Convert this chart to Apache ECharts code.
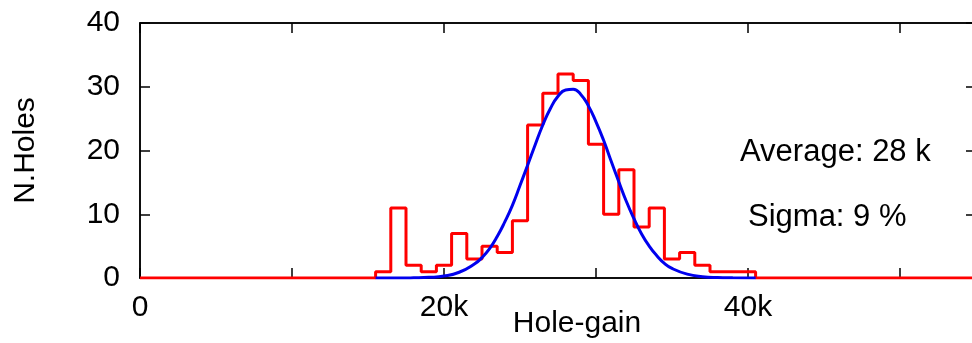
<!DOCTYPE html>
<html>
<head>
<meta charset="utf-8">
<script src="https://cdn.jsdelivr.net/npm/echarts@6/dist/echarts.min.js"></script>
<style>html,body{margin:0;padding:0;background:#fff}#c{width:972px;height:343px}</style>
</head>
<body>
<div id="c"></div>
<script>
// Histogram bins (centres in thousands of gain) and counts
var binCenters = [16,17,18,19,20,21,22,23,24,25,26,27,28,29,30,31,32,33,34,35,36,37,38,39,40];
var binCounts  = [1,11,2,1,2,7,3,5,4,9,24,29,32,31,21,10,17,8,11,3,4,2,1,1,1];
// Gaussian fit curve
var fitX = [15.5,17,18,19,20,21,22,22.5,23,23.5,24,24.5,25,25.5,26,26.5,27,27.5,28,28.5,29,29.5,30,30.5,31,31.5,32,32.5,33,33.5,34,34.5,35,36,37,38,39,40.5];
var fitY = [0,0,0.03,0.1,0.3,0.9,2.2,3.2,4.6,6.5,8.8,11.4,14.5,17.7,20.9,24.0,26.6,28.5,29.5,29.6,28.8,27.0,24.5,21.6,18.3,15.1,12.0,9.3,6.9,5.0,3.5,2.3,1.5,0.6,0.2,0.06,0.02,0];
var xTicks = [0,10,20,30,40,50];
var yTicks = [0,10,20,30,40];
var annotations = ["Average: 28 k", "Sigma: 9 %"];

var X_MAX = 55;
var histData = [];
for (var k = 0; k <= X_MAX; k++) {
  var idx = binCenters.indexOf(k);
  histData.push([k, idx >= 0 ? binCounts[idx] : 0]);
}
var fitData = fitX.map(function (x, i) { return [x, fitY[i]]; });

var font = 'Liberation Sans, Arial, Helvetica, sans-serif';
var chart = echarts.init(document.getElementById('c'), null, {renderer: 'canvas'});
var axisLineStyle = {color: '#000', width: 1.5};
function xLabel(v) { return (v % 20 === 0) ? (v === 0 ? '0' : v + 'k') : ''; }

chart.setOption({
  animation: false,
  backgroundColor: '#fff',
  grid: {left: 140, top: 23, width: 836, height: 255, containLabel: false, outerBoundsMode: 'none',
         show: true, borderColor: '#000', borderWidth: 1.5, backgroundColor: 'transparent'},
  xAxis: [{
    type: 'value', gridIndex: 0, min: 0, max: X_MAX, interval: 10, position: 'bottom',
    axisLine: {show: true, onZero: false, lineStyle: axisLineStyle},
    axisTick: {show: true, inside: true, length: 10, lineStyle: axisLineStyle},
    axisLabel: {show: true, formatter: xLabel, fontSize: 30, fontFamily: font, color: '#000', margin: 15, showMaxLabel: false},
    splitLine: {show: false},
    name: 'Hole-gain', nameLocation: 'middle', nameGap: 31, nameMoveOverlap: false,
    nameTextStyle: {fontSize: 30, fontFamily: font, color: '#000', padding: [0, 0, 0, 38]}
  }, {
    type: 'value', gridIndex: 0, show: true, min: 0, max: X_MAX, interval: 10, position: 'top',
    axisLine: {show: true, onZero: false, lineStyle: axisLineStyle},
    axisTick: {show: true, inside: true, length: 10, lineStyle: axisLineStyle},
    axisLabel: {show: false}, splitLine: {show: false}
  }],
  yAxis: [{
    type: 'value', gridIndex: 0, min: 0, max: 40, interval: 10, position: 'left',
    axisLine: {show: true, onZero: false, lineStyle: axisLineStyle},
    axisTick: {show: true, inside: true, length: 10, lineStyle: axisLineStyle},
    axisLabel: {show: true, fontSize: 30, fontFamily: font, color: '#000', margin: 20},
    splitLine: {show: false},
    name: 'N.Holes', nameLocation: 'middle', nameGap: 99, nameRotate: 90,
    nameTextStyle: {fontSize: 30, fontFamily: font, color: '#000'}
  }, {
    type: 'value', gridIndex: 0, show: true, min: 0, max: 40, interval: 10, position: 'right',
    axisLine: {show: true, onZero: false, lineStyle: axisLineStyle},
    axisTick: {show: true, inside: true, length: 10, lineStyle: axisLineStyle},
    axisLabel: {show: false}, splitLine: {show: false}
  }],
  graphic: [
    {type: 'text', left: 740, top: 137, style: {text: annotations[0], font: '31px ' + font, fill: '#000'}, z: 100},
    {type: 'text', left: 748, top: 202, style: {text: annotations[1], font: '31px ' + font, fill: '#000'}, z: 100}
  ],
  series: [{
    type: 'line', xAxisIndex: 0, yAxisIndex: 0, data: histData, step: 'middle', showSymbol: false, symbol: 'none',
    lineStyle: {color: '#ff0000', width: 3}, z: 3, clip: true
  }, {
    type: 'line', xAxisIndex: 0, yAxisIndex: 0, data: fitData, smooth: 0.5, showSymbol: false, symbol: 'none',
    lineStyle: {color: '#0000ee', width: 3}, z: 4, clip: true
  }, {
    type: 'line', xAxisIndex: 1, yAxisIndex: 1, data: [], showSymbol: false, silent: true
  }]
});
</script>
</body>
</html>
